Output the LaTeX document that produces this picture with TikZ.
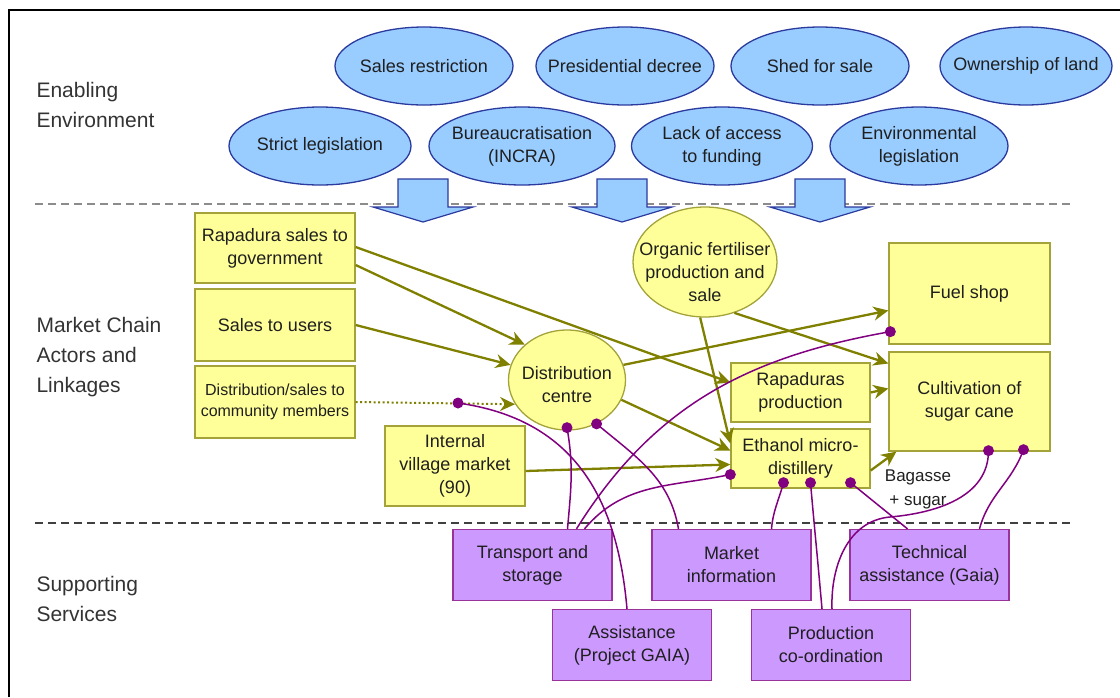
\documentclass[tikz,border=0pt]{standalone}
\usepackage{fontspec}
\setmainfont{Liberation Sans}
\usetikzlibrary{arrows.meta,shapes.geometric}
\definecolor{envfill}{HTML}{99CCFF}
\definecolor{envline}{HTML}{2B3A9E}
\definecolor{actfill}{HTML}{FFFF99}
\definecolor{actline}{HTML}{A3A33A}
\definecolor{flowcol}{HTML}{808000}
\definecolor{srvfill}{HTML}{CC99FF}
\definecolor{srvline}{HTML}{993399}
\definecolor{linkcol}{HTML}{800080}

\begin{document}
\begin{tikzpicture}[x=1pt,y=-1pt,
  txt/.style={font=\fontsize{18}{23}\selectfont,align=center,text=black!88},
  envell/.style={ellipse,draw=envline,fill=envfill,line width=1.3pt,inner sep=0pt,minimum height=78pt},
  actbox/.style={rectangle,draw=actline,fill=actfill,line width=1.3pt,txt},
  actell/.style={ellipse,draw=actline,fill=actfill,line width=1.3pt,inner sep=0pt},
  srvbox/.style={rectangle,draw=srvline,fill=srvfill,line width=1.3pt,minimum width=159pt,minimum height=71pt,txt},
  section/.style={anchor=west,align=left,font=\fontsize{21}{30}\selectfont,text=black!80},
  blockarr/.style={draw=envline,fill=envfill,line width=1.2pt},
  flow/.style={draw=flowcol,line width=2.3pt,-{Stealth[length=15pt,width=14pt]}},
  dotflow/.style={line width=2pt,dash pattern=on 2pt off 2.5pt},
  link/.style={draw=linkcol,line width=1.5pt}]
  \useasboundingbox (0,0) rectangle (1120,697);
  \draw[line width=2pt] (9,697) -- (9,10) -- (1120,10);
  % --- enabling environment ---
  \node[envell,minimum width=178pt,label={[txt]center:{Sales restriction}}] (salesr) at (424,66) {};
  \node[envell,minimum width=178pt,label={[txt]center:{Presidential decree}}] (decree) at (625,66) {};
  \node[envell,minimum width=178pt,label={[txt]center:{Shed for sale}}] (shed) at (820,66) {};
  \node[envell,minimum width=172pt,label={[txt]center:{Ownership of land}}] (owner) at (1026,66) {};
  \node[envell,minimum width=182pt,label={[txt]center:{Strict legislation}}] (strict) at (320,146) {};
  \node[envell,minimum width=186pt,label={[txt]center:{Bureaucratisation\\(INCRA)}}] (bureau) at (522,146) {};
  \node[envell,minimum width=181pt,label={[txt]center:{Lack of access\\to funding}}] (funding) at (722,146) {};
  \node[envell,minimum width=178pt,label={[txt]center:{Environmental\\legislation}}] (envleg) at (919,146) {};
  % dashed borders between the three layers
  \draw[black!45,dash pattern=on 8pt off 5pt,line width=1.6pt] (35,204) -- (1070,204);
  \draw[black!75,dash pattern=on 8pt off 5pt,line width=1.6pt] (35,523) -- (1070,523);
  \foreach \cx in {423,622,820}
    \draw[blockarr] (\cx-25,179) -- (\cx+25,179) -- (\cx+25,207) -- (\cx+50,207)
      -- (\cx,222) -- (\cx-50,207) -- (\cx-25,207) -- cycle;
  % --- layer names ---
  \node[section] (lblenv) at (33,105) {Enabling\\Environment};
  \node[section] (lblmkt) at (33,357) {Market Chain\\Actors and\\Linkages};
  \node[section] (lblsrv) at (33,599) {Supporting\\Services};
  % --- market chain actors ---
  \node[actbox,minimum width=160pt,minimum height=70pt] (rapgov) at (275,248) {Rapadura sales to\\government};
  \node[actbox,minimum width=160pt,minimum height=72pt] (users) at (275,325) {Sales to users};
  \node[actbox,minimum width=160pt,minimum height=72pt,font=\fontsize{16}{21}\selectfont] (commun) at (275,402) {Distribution/sales to\\community members};
  \node[actbox,minimum width=140pt,minimum height=80pt] (village) at (455,466) {Internal\\village market\\(90)};
  \node[actell,minimum width=117pt,minimum height=100pt,label={[txt,yshift=-5pt]center:{Distribution\\centre}}] (distc) at (567,380) {};
  \node[actell,minimum width=144pt,minimum height=110pt,label={[txt,yshift=-10pt]center:{Organic fertiliser\\production and\\sale}}] (fert) at (705,262) {};
  \node[actbox,minimum width=161pt,minimum height=101pt] (fuel) at (969.5,293.5) {Fuel shop};
  \node[actbox,minimum width=161pt,minimum height=99pt] (cane) at (969.5,401.5) {Cultivation of\\sugar cane};
  \node[actbox,minimum width=139pt,minimum height=59pt] (rapprod) at (800.5,392.5) {Rapaduras\\production};
  \node[actbox,minimum width=139pt,minimum height=59pt] (ethanol) at (800.5,458.5) {Ethanol micro-\\distillery};
  \node[txt,font=\fontsize{17}{24}\selectfont] (bagasse) at (918,489) {Bagasse\\+ sugar};
  % --- supporting services ---
  \node[srvbox] (transport) at (532.5,565) {Transport and\\storage};
  \node[srvbox] (marketinfo) at (731.5,565) {Market\\information};
  \node[srvbox] (techas) at (929.5,565) {Technical\\assistance (Gaia)};
  \node[srvbox] (gaia) at (632,645) {Assistance\\(Project GAIA)};
  \node[srvbox] (prodco) at (831,645) {Production\\co-ordination};
  % --- product flows ---
  \draw[flow] ([yshift=1pt]rapgov.east) -- ([yshift=10pt]rapprod.west);
  \draw[flow] ([yshift=-17pt]rapgov.east) -- (distc.140);
  \draw[flow] (users.east) -- (distc.165);
  \draw[flow,dotflow] (commun.east) -- (distc.-155);
  \draw[flow] (distc.15) -- ([yshift=-17pt]fuel.west);
  \draw[flow] (distc.-20) -- ([yshift=8pt]ethanol.west);
  \draw[flow] (fert.-95) -- ([yshift=15pt]ethanol.west);
  \draw[flow] (fert.-60) -- ([yshift=38pt]cane.west);
  \draw[flow] (rapprod.east) -- ([yshift=13pt]cane.west);
  \draw[flow] ([yshift=-5pt]village.east) -- ([yshift=-6pt]ethanol.west);
  \draw[flow] ([yshift=-12pt]ethanol.east) -- ([xshift=8pt]cane.south west);
  % --- service links (dot at the actor end) ---
  \coordinate (dline) at (458,403);
  \coordinate (dc1) at ([yshift=3pt]distc.south);
  \coordinate (dc2) at (distc.-56);
  \coordinate (fueldot) at ([xshift=2pt,yshift=13pt]fuel.south west);
  \coordinate (eth0) at ([yshift=-16pt]ethanol.west);
  \coordinate (eth1) at ([xshift=-17pt,yshift=6pt]ethanol.south);
  \coordinate (eth2) at ([xshift=10pt,yshift=6pt]ethanol.south);
  \coordinate (eth3) at ([xshift=50pt,yshift=6pt]ethanol.south);
  \coordinate (cane1) at ([xshift=19pt,yshift=1pt]cane.south);
  \coordinate (cane2) at ([xshift=54pt,yshift=2pt]cane.south);
  \draw[link] ([xshift=-5pt]gaia.north) to[out=95,in=-8,looseness=1.1] (dline);
  \draw[link] ([xshift=35pt]transport.north) to[out=85,in=-80] (dc1);
  \draw[link] ([xshift=-53pt]marketinfo.north) to[out=100,in=-40] (dc2);
  \draw[link] ([xshift=44pt]transport.north) to[out=58,in=190] (fueldot);
  \draw[link] ([xshift=52pt]transport.north) to[out=50,in=192] (eth0);
  \draw[link] ([xshift=40pt]marketinfo.north) to[out=85,in=-105] (eth1);
  \draw[link] ([xshift=-9pt]prodco.north) to[out=95,in=-85] (eth2);
  \draw[link] ([xshift=-22pt]techas.north) -- (eth3);
  \draw[link] ([xshift=1pt]prodco.north) to[out=92,in=185] (890,517) to[out=5,in=-90] (cane1);
  \draw[link] ([xshift=50pt]techas.north) to[out=75,in=-110] (cane2);
  \foreach \p in {dline,dc1,dc2,fueldot,eth0,eth1,eth2,eth3,cane1,cane2}
    \fill[linkcol] (\p) circle (5.5pt);
\end{tikzpicture}
\end{document}
